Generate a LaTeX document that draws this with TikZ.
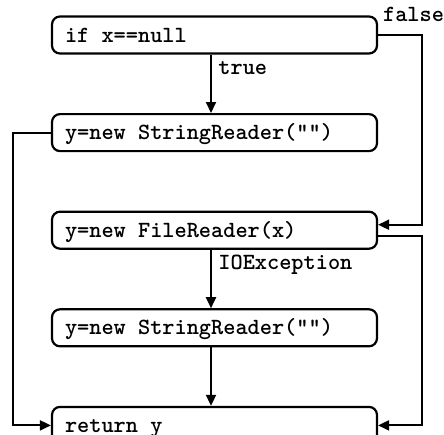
\documentclass[tikz,border=0pt]{standalone}
\usepackage{fontspec}
\setmonofont{lmmonolt10}[Extension=.otf, UprightFont=*-regular, BoldFont=*-bold]
\usetikzlibrary{arrows.meta,positioning}
\begin{document}
\begin{tikzpicture}[
      node distance=29.2pt,
      every node/.style={font=\fontsize{11.6}{14}\selectfont\ttfamily\bfseries},
      box/.style={draw, line width=1.1pt, rounded corners=4pt, minimum width=162.5pt,
                  minimum height=18.5pt, text width=149.5pt, inner xsep=6.5pt,
                  align=flush left, text height=7.5pt, text depth=0.5pt},
      lbl/.style={anchor=base west, inner sep=0pt},
      ar/.style={-{Triangle[length=5.5pt,width=5pt]}, line width=1pt}
    ]
    \useasboundingbox (0,0) rectangle (222pt,-217pt);
    \node[box] (test) at (107.25pt,-17.5pt) {if x==null};
    \node[box, below=of test]   (empty1) {y=new StringReader("")};
    \node[box, below=of empty1] (open)   {y=new FileReader(x)};
    \node[box, below=of open]   (empty2) {y=new StringReader("")};
    \node[box, below=of empty2] (ret)    {return y};
    \node[lbl] (ltrue)  at ([xshift=1.75pt,yshift=-10pt]test.south) {true};
    \node[lbl] (lexc)   at ([xshift=1.75pt,yshift=-10pt]open.south) {IOException};
    \node[lbl] (lfalse) at ([xshift=2.3pt,yshift=-3pt]test.north east) {false};
    \coordinate[right=22pt of test.east] (fside);
    \draw[ar] ([xshift=-1.75pt]test.south) -- ([xshift=-1.75pt]empty1.north);
    \draw[ar] ([xshift=-1.75pt]open.south) -- ([xshift=-1.75pt]empty2.north);
    \draw[ar] ([xshift=-1.75pt]empty2.south) -- ([xshift=-1.75pt]ret.north);
    \draw[ar] (test.east) -- (fside) |- ([yshift=2.75pt]open.east);
    \draw[ar] ([yshift=-2.75pt]open.east) -- ++(22pt,0) |- (ret.east);
    \draw[ar] (empty1.west) -- ++(-19pt,0) |- (ret.west);
  \end{tikzpicture}
\end{document}
